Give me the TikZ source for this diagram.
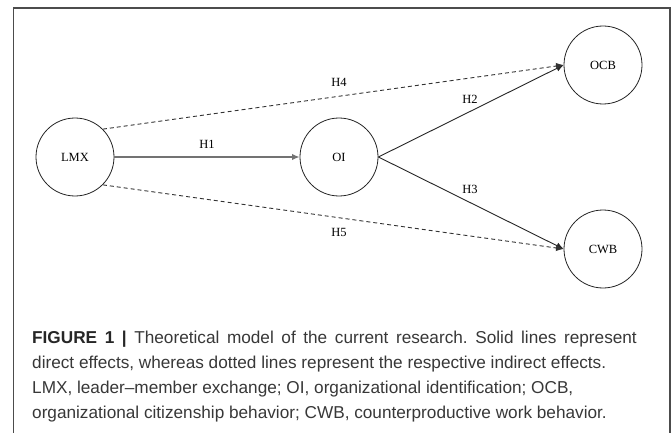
\documentclass[tikz,border=0pt]{standalone}
\usepackage{fontspec}
\setmainfont{Liberation Serif}
\newfontfamily\capfont{Liberation Sans}
\usetikzlibrary{arrows.meta}
\begin{document}
\begin{tikzpicture}[x=1pt,y=-1pt,
  var/.style={circle,draw=black!85,line width=0.8pt,minimum size=78pt,inner sep=0pt,font=\fontsize{12.5}{14}\selectfont},
  solidarrow/.style={draw=black!85,line width=0.9pt,-{Latex[length=7.5pt,width=6.5pt]}},
  dasharrow/.style={draw=black!80,line width=0.9pt,dash pattern=on 4pt off 3pt,-{Latex[length=7.5pt,width=6.5pt]}},
  hlabel/.style={font=\fontsize{12.5}{14}\selectfont,inner sep=0pt},
  capline/.style={anchor=base west,inner sep=0pt,text=black!78,font=\capfont\fontsize{17.2}{20}\selectfont}]
\useasboundingbox (0,0) rectangle (672,433);
\fill[white] (0,0) rectangle (672,433);
\draw[black!70,line width=1.3pt] (13.5,433) -- (13.5,8) -- (670,8) -- (670,433);

\node[var] (lmx) at (75,157) {LMX};
\node[var] (oi)  at (339,157) {OI};
\node[var] (ocb) at (603,65) {OCB};
\node[var] (cwb) at (603,249) {CWB};

\draw[solidarrow,draw=black!55,line width=1.4pt] (lmx) -- node[hlabel,above=8pt,text=black]{H1} (oi);
\draw[solidarrow] (oi.east) -- (ocb.west);
\draw[solidarrow] (oi.east) -- (cwb.west);
\draw[dasharrow] (lmx.45) -- (ocb.west);
\draw[dasharrow] (lmx.-45) -- (cwb.west);

\node[hlabel] (h2) at (470,99) {H2};
\node[hlabel] (h3) at (470,189) {H3};
\node[hlabel] (h4) at (339,82) {H4};
\node[hlabel] (h5) at (339,232) {H5};

\node[capline] (c1) at (32,343) {\frenchspacing\spaceskip=7.6pt\relax\textbf{\color{black!85}FIGURE 1 |} Theoretical model of the current research. Solid lines represent};
\node[capline] (c2) at (32,368) {direct effects, whereas dotted lines represent the respective indirect effects.};
\node[capline] (c3) at (32,393) {LMX, leader\textendash member exchange; OI, organizational identification; OCB,};
\node[capline] (c4) at (32,418) {organizational citizenship behavior; CWB, counterproductive work behavior.};
\end{tikzpicture}
\end{document}
